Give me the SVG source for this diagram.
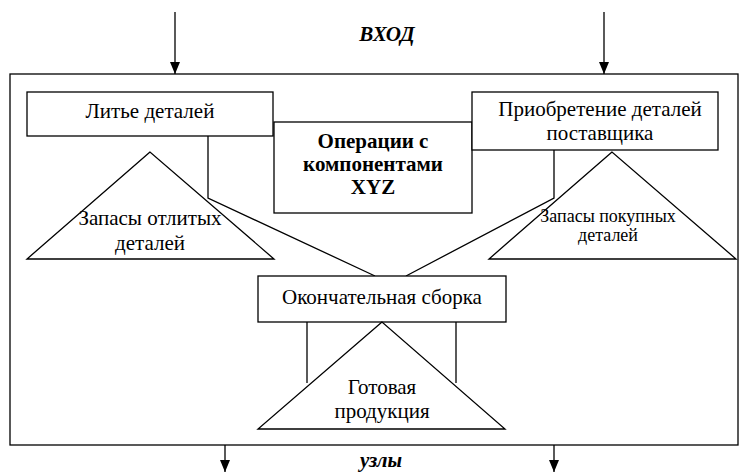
<svg xmlns="http://www.w3.org/2000/svg" width="741" height="473" viewBox="0 0 741 473">
<defs>
<marker id="ah" markerWidth="12" markerHeight="10" refX="12" refY="5" orient="auto" markerUnits="userSpaceOnUse" viewBox="0 0 12 10">
<path d="M0,0 L12,5 L0,10 Z" fill="#000"/>
</marker>
<style>
.b{fill:#fff;stroke:#000;stroke-width:1.3}
.l{fill:none;stroke:#000;stroke-width:1.3}
.t{font-family:"Liberation Serif","Times New Roman",serif;font-size:21px;text-anchor:middle;fill:#000}
.s{font-size:18px}
.bd{font-weight:bold}
.bi{font-family:"Liberation Serif","Times New Roman",serif;font-weight:bold;font-style:italic;font-size:21px;text-anchor:middle}
</style>
</defs>
<rect x="0" y="0" width="741" height="473" fill="#fff"/>
<rect id="frame" x="10" y="74" width="728" height="371" class="l"/>
<text class="bi" x="387" y="41">ВХОД</text>
<text class="bi" x="381" y="467">узлы</text>
<g id="connectors">
<line x1="175" y1="12" x2="175" y2="74" class="l" marker-end="url(#ah)"/>
<line x1="604" y1="12" x2="604" y2="74" class="l" marker-end="url(#ah)"/>
<line x1="225" y1="445" x2="225" y2="472" class="l" marker-end="url(#ah)"/>
<line x1="554" y1="445" x2="554" y2="472" class="l" marker-end="url(#ah)"/>
<polyline points="208,136 208,198 375,276" class="l"/>
<polyline points="554,150 554,198 406,276" class="l"/>
<line x1="307" y1="322" x2="307" y2="383" class="l"/>
<line x1="456" y1="322" x2="456" y2="383" class="l"/>
</g>
<g id="ops">
<rect x="274" y="122" width="198" height="91" class="b"/>
<text class="t bd" x="373" y="148">Операции с</text>
<text class="t bd" x="373" y="171">компонентами</text>
<text class="t bd" x="373" y="194">XYZ</text>
</g>
<g id="casting">
<rect x="27" y="92" width="246" height="44" class="b"/>
<text class="t" x="150" y="118">Литье деталей</text>
</g>
<g id="purchase">
<rect x="472" y="92" width="246" height="58" class="b"/>
<text class="t" x="600" y="116">Приобретение деталей</text>
<text class="t" x="600" y="140">поставщика</text>
</g>
<g id="cast-stock">
<polygon points="150,152 27,259 274,259" class="l"/>
<text class="t" x="150" y="225">Запасы отлитых</text>
<text class="t" x="150" y="250">деталей</text>
</g>
<g id="buy-stock">
<polygon points="612,152 489,259 736,259" class="l"/>
<text class="t s" x="608" y="222">Запасы покупных</text>
<text class="t s" x="608" y="241">деталей</text>
</g>
<g id="assembly">
<rect x="258" y="276" width="248" height="46" class="b"/>
<text class="t" x="382" y="304">Окончательная сборка</text>
</g>
<g id="finished">
<polygon points="382,322 258,429 505,429" class="l"/>
<text class="t" x="382" y="394">Готовая</text>
<text class="t" x="382" y="418">продукция</text>
</g>
</svg>
